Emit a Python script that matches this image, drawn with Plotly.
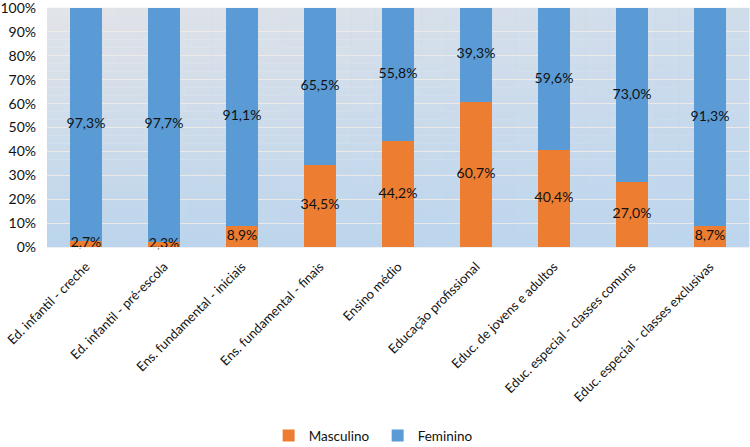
import plotly.graph_objects as go

categories = [
    "Ed. infantil - creche",
    "Ed. infantil - pré-escola",
    "Ens. fundamental - iniciais",
    "Ens. fundamental - finais",
    "Ensino médio",
    "Educação profissional",
    "Educ. de jovens e adultos",
    "Educ. especial - classes comuns",
    "Educ. especial - classes exclusivas",
]
masculino = [2.7, 2.3, 8.9, 34.5, 44.2, 60.7, 40.4, 27.0, 8.7]
feminino = [97.3, 97.7, 91.1, 65.5, 55.8, 39.3, 59.6, 73.0, 91.3]
y_ticks = [0, 10, 20, 30, 40, 50, 60, 70, 80, 90, 100]
y_ticklabels = [f"{v}%" for v in y_ticks]


def fmt(v):
    return f"{v:.1f}%".replace(".", ",")


FONT = "Lato, 'Open Sans', sans-serif"
TXT = "#111111"

fig = go.Figure()
fig.add_trace(go.Bar(
    name="Masculino", x=categories, y=masculino,
    marker=dict(color="#ED7D31", line=dict(width=0)), hoverinfo="skip",
))
fig.add_trace(go.Bar(
    name="Feminino", x=categories, y=feminino,
    marker=dict(color="#5B9BD5", line=dict(width=0)), hoverinfo="skip",
))
# data labels, drawn above the bars at the middle of each stacked segment
fig.add_trace(go.Scatter(
    x=categories, y=[m / 2 for m in masculino], mode="text",
    text=[fmt(v) for v in masculino], textposition="middle center",
    textfont=dict(color=TXT, size=14, family=FONT),
    showlegend=False, hoverinfo="skip", cliponaxis=False,
))
fig.add_trace(go.Scatter(
    x=categories, y=[m + f / 2 for m, f in zip(masculino, feminino)], mode="text",
    text=[fmt(v) for v in feminino], textposition="middle center",
    textfont=dict(color=TXT, size=14, family=FONT),
    showlegend=False, hoverinfo="skip", cliponaxis=False,
))

# background gradient (decoration)
shapes = []
n = 30
c_top = (0xE3, 0xE4, 0xE8)
c_bot = (0xBC, 0xD5, 0xEC)
for i in range(n):
    t = (i + 0.5) / n
    c = tuple(round(c_top[k] + (c_bot[k] - c_top[k]) * t) for k in range(3))
    shapes.append(dict(type="rect", xref="x domain", yref="y domain",
                       x0=0, x1=1, y0=1 - (i + 1) / n, y1=1 - i / n + 0.001,
                       fillcolor="rgb(%d,%d,%d)" % c, line=dict(width=0), layer="below"))
for i in range(n):
    t = (i + 0.5) / n
    shapes.append(dict(type="rect", xref="x domain", yref="y domain",
                       x0=i / n, x1=(i + 1) / n + 0.001, y0=0, y1=1,
                       fillcolor="#BED6EE", opacity=0.55 * t, line=dict(width=0), layer="below"))

fig.update_layout(
    width=750, height=447,
    barmode="stack", bargap=0.6,
    margin=dict(l=47, r=1, t=8, b=200, autoexpand=False),
    paper_bgcolor="white", plot_bgcolor="rgba(0,0,0,0)",
    font=dict(family=FONT, size=14, color=TXT),
    shapes=shapes,
    legend=dict(orientation="h", x=0.471, xanchor="center", y=-0.79, yanchor="middle",
                font=dict(size=13.5), traceorder="normal", itemwidth=30,
                entrywidth=64, entrywidthmode="pixels"),
    showlegend=True,
)
fig.update_yaxes(range=[0, 100], tickvals=y_ticks, ticktext=y_ticklabels,
                 showgrid=True, gridcolor="rgba(238,235,232,0.9)", gridwidth=1,
                 zeroline=False, showline=False, ticks="", tickfont=dict(size=14),
                 automargin=False, ticklabelstandoff=10, ticklabeloverflow="allow")
fig.update_xaxes(tickangle=-45, showgrid=False, showline=True, linecolor="#eef0f3",
                 linewidth=1, ticks="", tickfont=dict(size=13), automargin=False,
                 ticklabeloverflow="allow", ticklabelstandoff=6)

fig.write_html("out.html", config={"displayModeBar": False, "staticPlot": True},
               post_script="document.body.style.margin='0';document.body.style.overflow='hidden';")
